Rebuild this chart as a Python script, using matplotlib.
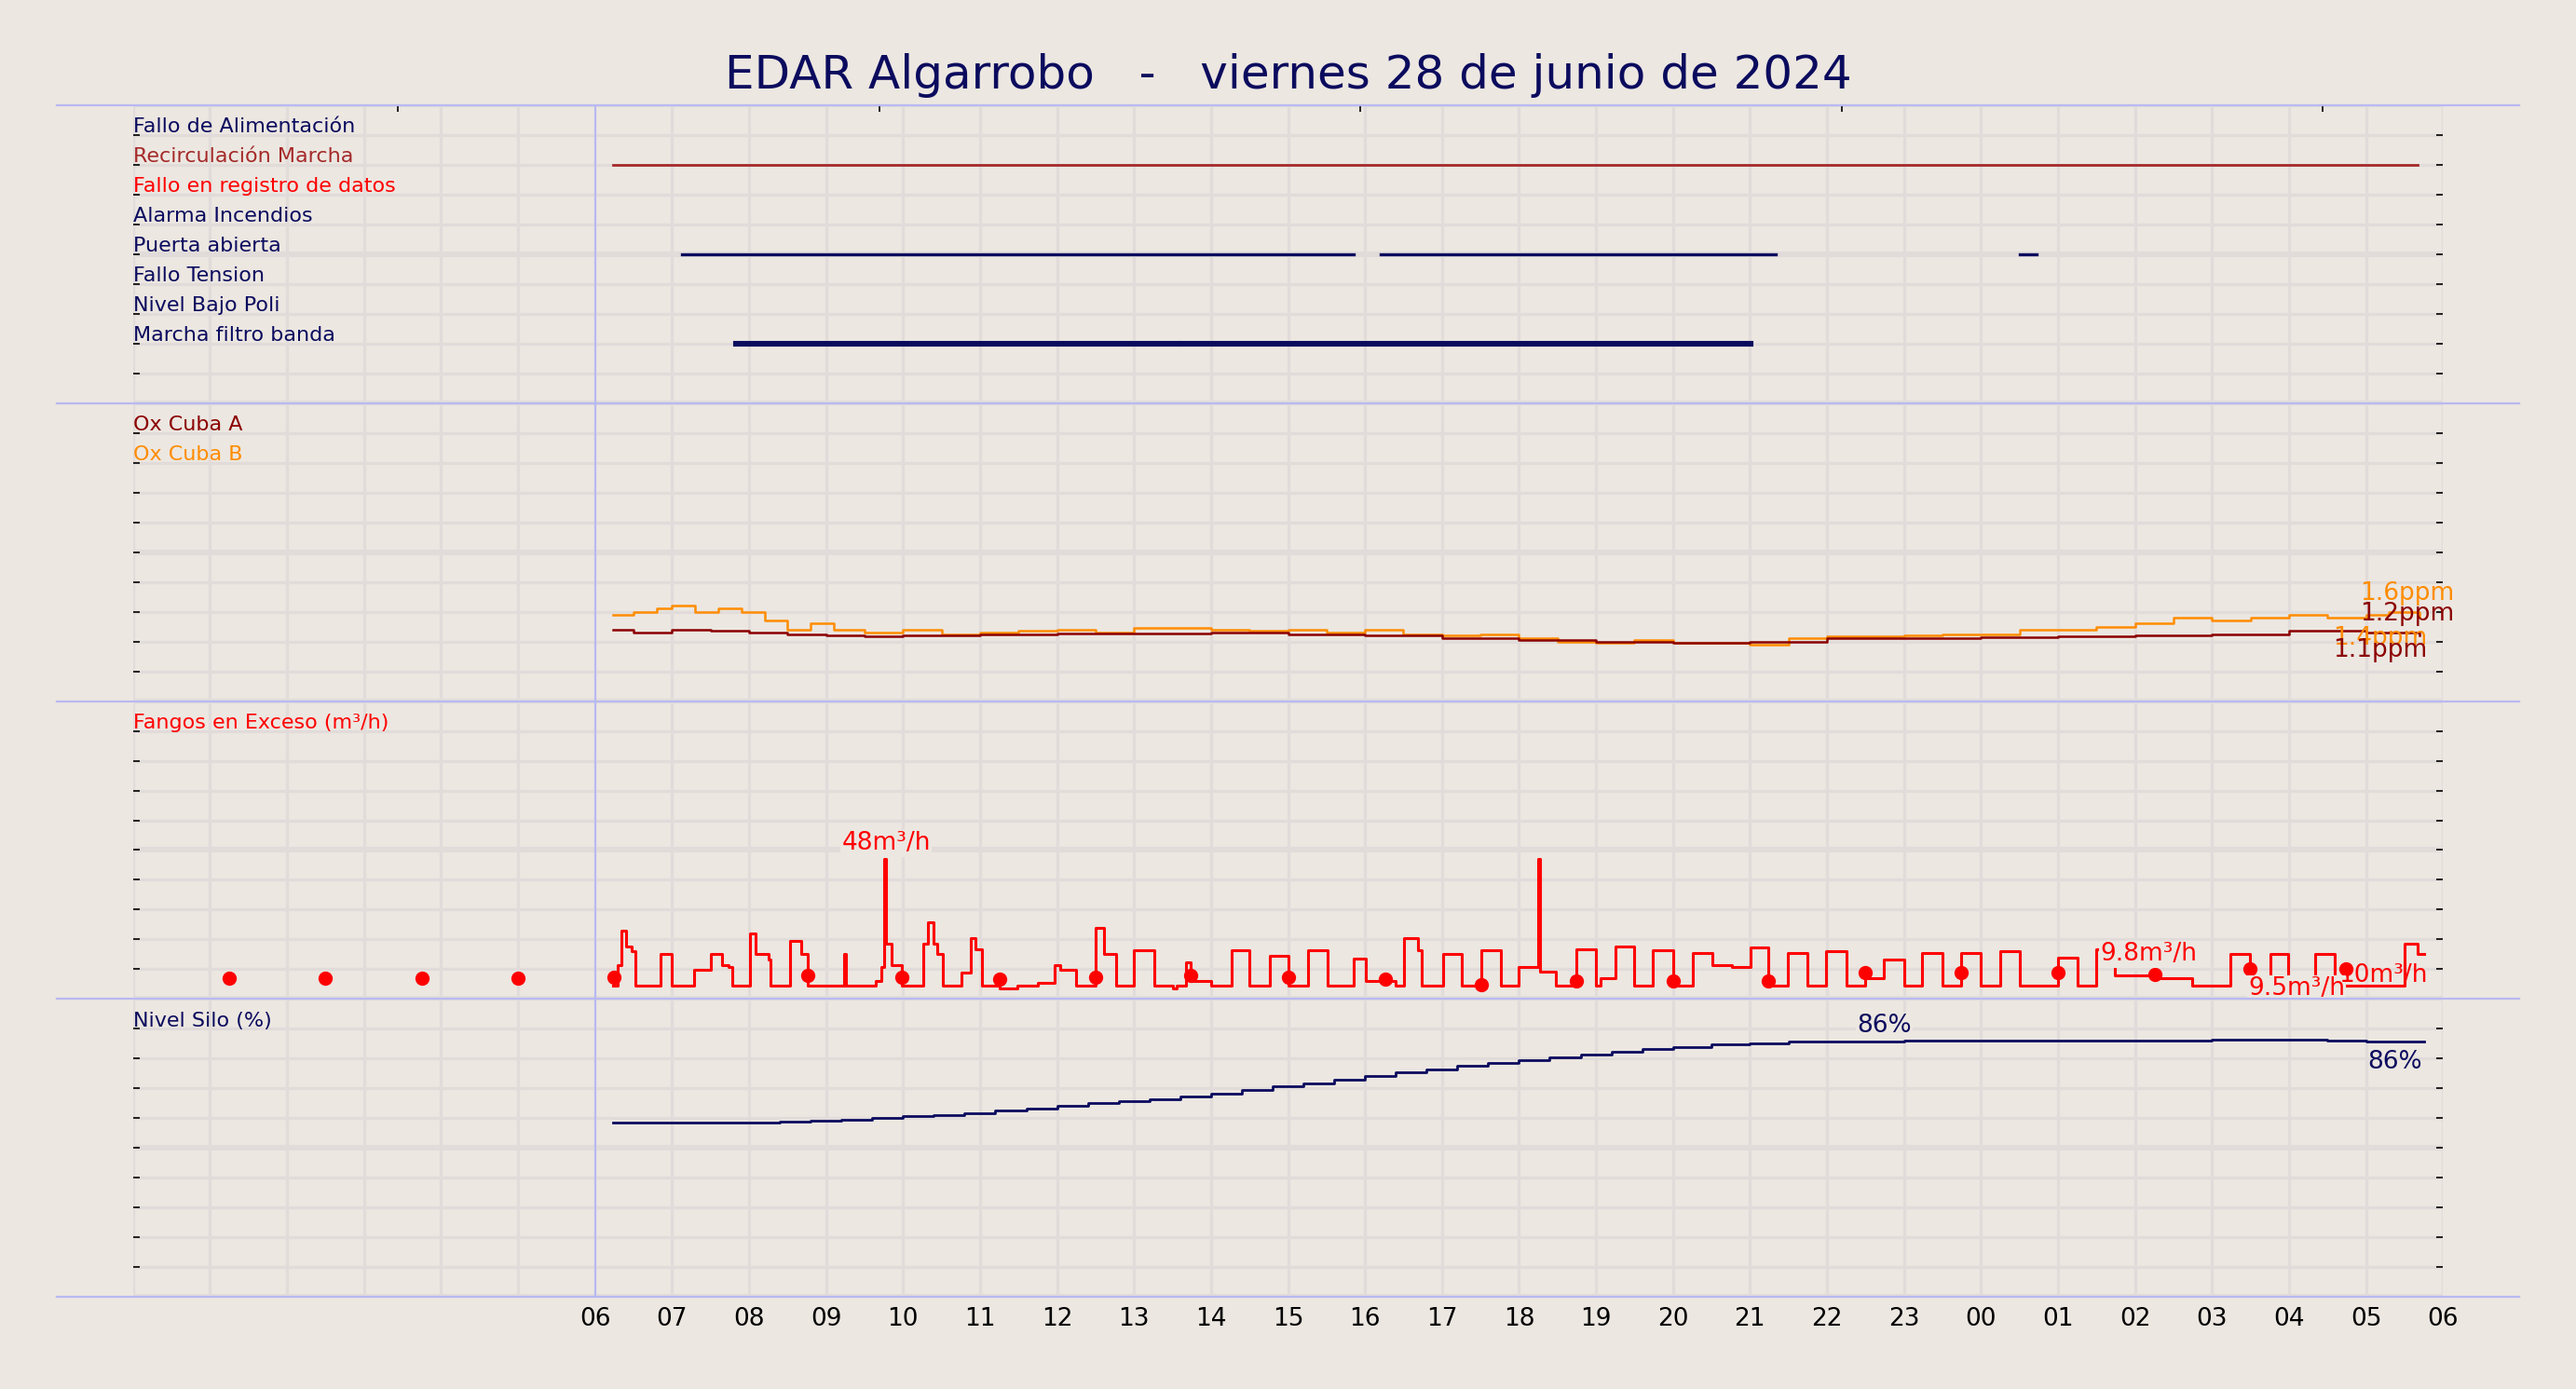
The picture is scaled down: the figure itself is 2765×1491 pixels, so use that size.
import numpy as np
import matplotlib.pyplot as plt
from matplotlib.transforms import blended_transform_factory

plt.rcParams['font.family'] = ['DejaVu Sans']

BG = '#ece7e1'
NAVY = '#0b0b5e'
GRID = '#e1dcda'
SEP = '#b9b9f2'

# ---- datos (horas desde las 06:00) ----
hour_labels = ['06', '07', '08', '09', '10', '11', '12', '13', '14', '15', '16', '17',
               '18', '19', '20', '21', '22', '23', '00', '01', '02', '03', '04', '05', '06']

alarm_names = ['Fallo de Alimentación', 'Recirculación Marcha', 'Fallo en registro de datos',
               'Alarma Incendios', 'Puerta abierta', 'Fallo Tension', 'Nivel Bajo Poli',
               'Marcha filtro banda']
alarm_colors = [NAVY, '#a52a2a', 'red', NAVY, NAVY, NAVY, NAVY, NAVY]
recirc_on = [(0.23, 23.67)]
puerta_on = [(1.13, 9.85), (10.21, 15.33), (18.5, 18.72)]
filtro_on = [(1.83, 1.98), (2.05, 7.57), (7.63, 15.01)]

oxa_t = [0.23, 0.5, 1.0, 1.5, 2.0, 2.5, 3.0, 3.5, 4.0, 5, 6, 7, 8, 9, 10, 11, 12, 13, 14, 15,
         16, 17, 18, 19, 20, 21, 22, 23, 23.7]
oxa_v = [1.2, 1.15, 1.2, 1.18, 1.15, 1.12, 1.1, 1.08, 1.1, 1.12, 1.13, 1.14, 1.15, 1.12, 1.1,
         1.05, 1.02, 1.0, 0.98, 1.0, 1.05, 1.05, 1.07, 1.08, 1.1, 1.12, 1.18, 1.15, 1.1]
oxb_t = [0.23, 0.5, 0.8, 1.0, 1.3, 1.6, 1.9, 2.2, 2.5, 2.8, 3.1, 3.5, 4.0, 4.5, 5.0, 5.5, 6.0,
         6.5, 7.0, 7.5, 8.0, 8.5, 9.0, 9.5, 10.0, 10.5, 11.0, 11.5, 12.0, 12.5, 13.0, 13.5, 14.0,
         14.5, 15.0, 15.5, 16.0, 16.5, 17.0, 17.5, 18.0, 18.5, 19.0, 19.5, 20.0, 20.5, 21.0,
         21.5, 22.0, 22.5, 23.0, 23.3, 23.7]
oxb_v = [1.45, 1.5, 1.55, 1.6, 1.5, 1.55, 1.5, 1.35, 1.2, 1.3, 1.2, 1.15, 1.2, 1.12, 1.15, 1.18,
         1.2, 1.15, 1.22, 1.22, 1.2, 1.18, 1.2, 1.15, 1.2, 1.12, 1.1, 1.12, 1.05, 1.0, 0.98,
         1.02, 0.98, 0.98, 0.95, 1.05, 1.08, 1.08, 1.1, 1.12, 1.12, 1.2, 1.2, 1.25, 1.3, 1.4,
         1.35, 1.4, 1.45, 1.4, 1.45, 1.5, 1.4]

fango_t = [0.23, 0.29, 0.34, 0.40, 0.47, 0.52, 0.85, 1.0, 1.29, 1.51, 1.65, 1.73, 1.78, 2.01,
           2.09, 2.26, 2.28, 2.53, 2.68, 2.76, 3.24, 3.26, 3.64, 3.72, 3.76, 3.78, 3.85, 3.99,
           4.26, 4.32, 4.39, 4.45, 4.52, 4.76, 4.88, 4.94, 5.02, 5.26, 5.49, 5.75, 5.97, 6.04,
           6.25, 6.5, 6.61, 6.77, 7.0, 7.26, 7.5, 7.56, 7.67, 7.73, 8.0, 8.27, 8.5, 8.77, 9.0,
           9.26, 9.51, 9.85, 10.01, 10.4, 10.51, 10.69, 10.74, 11.01, 11.26, 11.51, 11.76,
           12.0, 12.25, 12.27, 12.48, 12.75, 13.0, 13.06, 13.25, 13.5, 13.74, 14.0, 14.26,
           14.51, 14.76, 15.01, 15.24, 15.49, 15.74, 15.99, 16.25, 16.5, 16.74, 17.0, 17.24,
           17.5, 17.74, 18.0, 18.25, 18.5, 19.0, 19.26, 19.5, 19.74, 20.24, 20.74, 21.24,
           21.49, 21.76, 21.99, 22.34, 22.59, 23.5, 23.67, 23.75]
fango_v = [0, 8, 21, 15, 13, 0, 12, 0, 6, 12, 8, 7, 0, 20, 12, 10, 0, 17, 12, 0, 12, 0, 2, 7,
           48, 16, 8, 0, 16, 24, 16, 12, 0, 5, 18, 14, 0, -1, 0, 1, 8, 6, 0, 22, 12, 0, 13.5,
           0, -1, 0, 9, 2, 0, 13.5, 0, 11.5, 0, 13.5, 0, 10.5, 2, 0, 18, 13.5, 0, 12, 0, 13.5,
           0, 7, 48, 5.5, 0, 14, 0, 3, 15, 0, 13.5, 0, 12.4, 8, 7, 14.5, 0, 12.4, 0, 13, 0, 3,
           10, 0, 12.4, 0, 12.4, 0, 13, 0, 10.6, 0, 14, 4, 3, 0, 12, 0, 12, 0, 12, 0, 16,
           12, 12]
dot_t = [-4.75, -3.5, -2.25, -1.0, 0.25, 2.76, 3.99, 5.26, 6.5, 7.73, 9.0, 10.26, 11.51,
         12.75, 14.0, 15.24, 16.5, 17.74, 19.0, 20.26, 21.49, 22.74]
dot_v = [3, 3, 3, 3, 3.3, 3.9, 3.3, 2.7, 3.3, 3.9, 3.3, 2.7, 0.4, 1.9, 1.9, 1.9, 5, 5, 5,
         4.5, 6.3, 6.3]

silo_t = [0.23, 2.4, 2.8, 3.2, 3.6, 4.0, 4.4, 4.8, 5.2, 5.6, 6.0, 6.4, 6.8, 7.2, 7.6, 8.0,
          8.4, 8.8, 9.2, 9.6, 10.0, 10.4, 10.8, 11.2, 11.6, 12.0, 12.4, 12.8, 13.2, 13.6, 14.0,
          14.5, 15.0, 15.5, 16.0, 17.0, 18.0, 20.0, 21.0, 22.5, 23.0, 23.75]
silo_v = [58.5, 58.8, 59.2, 59.6, 60.1, 60.6, 61.2, 61.8, 62.6, 63.4, 64.2, 65.0, 65.6,
          66.3, 67.2, 68.3, 69.4, 70.6, 71.8, 72.9, 74.1, 75.3, 76.4, 77.5, 78.6, 79.6, 80.5,
          81.4, 82.3, 83.2, 84.0, 84.7, 85.2, 85.6, 85.9, 86.0, 86.0, 86.1, 86.3, 86.1, 85.8, 85.8]

# ---- figura ----
fig = plt.figure(figsize=(13.825, 7.455), dpi=200, facecolor=BG)
left, right = 81 / 1568, 1487 / 1568
top, bottom = 1 - 64 / 846, 1 - 790 / 846
h = (top - bottom) / 4
axes = [fig.add_axes([left, top - (i + 1) * h, right - left, h]) for i in range(4)]
ylims = [(10, 0), (0, 5), (-5, 108), (0, 100)]

for i, ax in enumerate(axes):
    ax.set_facecolor(BG)
    ax.set_xlim(-6, 24)
    ax.set_ylim(*ylims[i])
    for s in ax.spines.values():
        s.set_visible(False)
    lo, hi = ylims[i]
    yt = np.linspace(lo, hi, 11)
    ax.set_yticks(yt[1:-1])
    ax.set_yticklabels([])
    ax.tick_params(axis='y', left=True, right=True, direction='in', length=2.5, width=0.6)
    for k, y in enumerate(yt):
        ax.axhline(y, color=GRID, lw=2.2 if k in (0, 5) else 1.2, zorder=0)
    for x in range(-6, 25):
        ax.axvline(x, color=SEP if x == 0 else GRID, lw=0.8 if x == 0 else 1.2, zorder=0.5)
    ax.set_xticks(range(0, 25))
    if i < 3:
        ax.tick_params(axis='x', bottom=False, labelbottom=False)
    else:
        ax.set_xticklabels(hour_labels, fontsize=9.5)
        ax.tick_params(axis='x', length=0, pad=4)
    ax.plot([-0.033, 1.033], [1, 1], transform=ax.transAxes, color=SEP, lw=0.8, clip_on=False)
    if i == 3:
        ax.plot([-0.033, 1.033], [0, 0], transform=ax.transAxes, color=SEP, lw=0.8, clip_on=False)

def row_label(ax, k, text, color):
    tr = blended_transform_factory(ax.transAxes, ax.transAxes)
    ax.text(0, 1 - k / 10 - 0.005, text, transform=tr, color=color, fontsize=8,
            va='bottom', ha='left')

# panel 1: alarmas
ax = axes[0]
for k, (name, c) in enumerate(zip(alarm_names, alarm_colors)):
    row_label(ax, k + 1, name, c)
for a, b in recirc_on:
    ax.plot([a, b], [2, 2], color='#a52a2a', lw=1.0)
for a, b in puerta_on:
    ax.plot([a, b], [5, 5], color=NAVY, lw=1.2)
for a, b in filtro_on:
    ax.plot([a, b], [8, 8], color=NAVY, lw=2.2)
sec = ax.secondary_xaxis('top')
sec.set_xticks([-2.56, 3.69, 9.94, 16.19, 22.44])
sec.set_xticklabels([])
sec.tick_params(direction='in', length=2.5, width=0.6)
for s in sec.spines.values():
    s.set_visible(False)

# panel 2: oxigeno
ax = axes[1]
row_label(ax, 1, 'Ox Cuba A', '#8b0000')
row_label(ax, 2, 'Ox Cuba B', 'darkorange')
ax.step(oxb_t, oxb_v, where='post', color='darkorange', lw=0.9)
ax.step(oxa_t, oxa_v, where='post', color='#8b0000', lw=0.9)
ax.text(24.15, max(oxb_v), f'{max(oxb_v):.1f}ppm', color='darkorange', fontsize=9.5,
        ha='right', va='bottom')
ax.text(24.15, 1.46, f'{max(oxa_v):.1f}ppm', color='#8b0000', fontsize=9.5, ha='right', va='center')
ax.text(23.8, 1.05, f'{oxb_v[-1]:.1f}ppm', color='darkorange', fontsize=9.5, ha='right', va='center')
ax.text(23.8, 0.85, f'{oxa_v[-1]:.1f}ppm', color='#8b0000', fontsize=9.5, ha='right', va='center')

# panel 3: fangos
ax = axes[2]
row_label(ax, 1, 'Fangos en Exceso (m³/h)', 'red')
ax.step(fango_t, fango_v, where='post', color='red', lw=1.1)
ax.plot(dot_t, dot_v, 'o', color='red', ms=4.5, ls='none')
box = dict(facecolor=BG, edgecolor='none', pad=0.5)
ax.text(3.78, 54, '48m³/h', color='red', fontsize=9.5, ha='center', va='center', bbox=box)
ax.text(19.55, 12, '9.8m³/h', color='red', fontsize=9.5, ha='left', va='center', bbox=box)
ax.text(22.1, -1, '9.5m³/h', color='red', fontsize=9.5, ha='center', va='center', bbox=box)
ax.text(23.8, 4, '10m³/h', color='red', fontsize=9.5, ha='right', va='center')

# panel 4: silo
ax = axes[3]
row_label(ax, 1, 'Nivel Silo (%)', NAVY)
ax.step(silo_t, silo_v, where='post', color=NAVY, lw=1.0)
ax.text(16.74, 91, '86%', color=NAVY, fontsize=9.5, ha='center', va='center', bbox=box)
ax.text(23.37, 79, '86%', color=NAVY, fontsize=9.5, ha='center', va='center')

fig.text(0.5, 1 - 46 / 846, 'EDAR Algarrobo   -   viernes 28 de junio de 2024', color=NAVY,
         fontsize=18, ha='center', va='center')

fig.savefig('out.png', facecolor=BG)
